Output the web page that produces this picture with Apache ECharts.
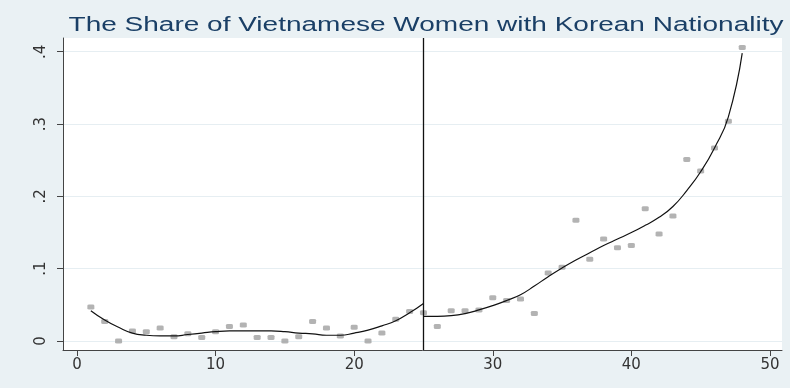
<!DOCTYPE html>
<html>
<head>
<meta charset="utf-8">
<script src="https://cdn.jsdelivr.net/npm/echarts@6/dist/echarts.min.js"></script>
<style>
  html, body { margin: 0; padding: 0; background: #eaf1f4; }
  #chart { width: 790px; height: 388px; }
</style>
</head>
<body>
<div id="chart"></div>
<script>
// observed shares, x = 1..48
const xs = [1, 2, 3, 4, 5, 6, 7, 8, 9, 10, 11, 12, 13, 14, 15, 16, 17, 18, 19, 20, 21, 22, 23, 24,
  25, 26, 27, 28, 29, 30, 31, 32, 33, 34, 35, 36, 37, 38, 39, 40, 41, 42, 43, 44, 45, 46, 47, 48];
const shares = [0.047, 0.027, 0.000, 0.014, 0.013, 0.018, 0.006, 0.010, 0.005, 0.013, 0.020, 0.022,
  0.005, 0.005, 0.000, 0.006, 0.027, 0.018, 0.007, 0.019, 0.000, 0.011, 0.030, 0.041,
  0.039, 0.020, 0.042, 0.042, 0.043, 0.060, 0.056, 0.058, 0.038, 0.094, 0.102, 0.167,
  0.113, 0.141, 0.129, 0.132, 0.183, 0.148, 0.173, 0.251, 0.235, 0.267, 0.304, 0.406];

// fitted curve, left of the cutoff (x = 1..25)
const leftX = [1, 2, 3, 4, 5, 6, 7, 8, 9, 10, 11, 12, 13, 14, 15, 16, 17, 18, 19, 20, 21, 22, 23, 24, 25];
const leftFit = [0.042, 0.029, 0.019, 0.011, 0.008, 0.007, 0.007, 0.009, 0.011, 0.013, 0.014, 0.014,
  0.014, 0.014, 0.013, 0.011, 0.010, 0.008, 0.008, 0.011, 0.015, 0.021, 0.028, 0.039, 0.052];

// fitted curve, right of the cutoff (x = 25..48)
const rightX = [25, 26, 27, 28, 29, 30, 31, 32, 33, 34, 35, 36, 37, 38, 39, 40, 41, 42, 43, 44, 45, 46, 47, 48];
const rightFit = [0.034, 0.034, 0.035, 0.038, 0.043, 0.049, 0.056, 0.064, 0.076, 0.089, 0.101, 0.112,
  0.122, 0.132, 0.141, 0.150, 0.160, 0.171, 0.186, 0.208, 0.234, 0.267, 0.310, 0.398];

const cutoff = 25;
const xTicks = [0, 10, 20, 30, 40, 50];
const yTicks = [0, 0.1, 0.2, 0.3, 0.4];
const titleText = "The Share of Vietnamese Women with Korean Nationality";

const chart = echarts.init(document.getElementById("chart"));

const labelFont = { color: "#333", fontFamily: "DejaVu Sans", fontSize: 15 };

chart.setOption({
  backgroundColor: "#eaf1f4",
  animation: false,
  graphic: [
    {
      type: "text",
      x: 426,
      y: 25,
      scaleX: 1.4,
      style: {
        text: titleText,
        fill: "#1a3f66",
        font: '20px "Liberation Sans"',
        align: "center",
        verticalAlign: "middle",
        textAlign: "center",
        textVerticalAlign: "middle",
      },
    },
  ],
  grid: {
    left: 63,
    right: 8,
    top: 38,
    bottom: 38,
    containLabel: false,
    show: true,
    backgroundColor: "#ffffff",
    borderWidth: 0,
  },
  xAxis: {
    type: "value",
    min: -1.01,
    max: 50.87,
    axisLine: { show: true, onZero: false, lineStyle: { color: "#444", width: 1 } },
    axisTick: { show: true, length: 6, customValues: xTicks, lineStyle: { color: "#444" } },
    axisLabel: { ...labelFont, margin: 8, customValues: xTicks },
    splitLine: { show: false },
  },
  yAxis: {
    type: "value",
    min: -0.0124,
    max: 0.419,
    axisLine: { show: true, onZero: false, lineStyle: { color: "#444", width: 1 } },
    axisTick: { show: true, length: 6, customValues: yTicks, lineStyle: { color: "#444" } },
    axisLabel: {
      ...labelFont,
      rotate: 90,
      margin: 14,
      customValues: yTicks,
      formatter: (v) => (v === 0 ? "0" : String(+v.toFixed(1)).replace(/^0\./, ".")),
    },
    splitLine: { show: true, lineStyle: { color: "#e6eef2", width: 1 } },
  },
  series: [
    {
      name: "share",
      type: "scatter",
      symbol: "roundRect",
      symbolSize: [7, 5],
      itemStyle: { color: "#a0a0a0" },
      data: xs.map((x, i) => [x, shares[i]]),
      z: 2,
    },
    {
      name: "fit left",
      type: "line",
      smooth: true,
      showSymbol: false,
      lineStyle: { color: "#111", width: 1.2 },
      data: leftX.map((x, i) => [x, leftFit[i]]),
      z: 3,
      markLine: {
        silent: true,
        symbol: "none",
        label: { show: false },
        lineStyle: { color: "#111", width: 1.3, type: "solid" },
        data: [{ xAxis: cutoff }],
      },
    },
    {
      name: "fit right",
      type: "line",
      smooth: true,
      showSymbol: false,
      lineStyle: { color: "#111", width: 1.2 },
      data: rightX.map((x, i) => [x, rightFit[i]]),
      z: 3,
    },
  ],
});
</script>
</body>
</html>
